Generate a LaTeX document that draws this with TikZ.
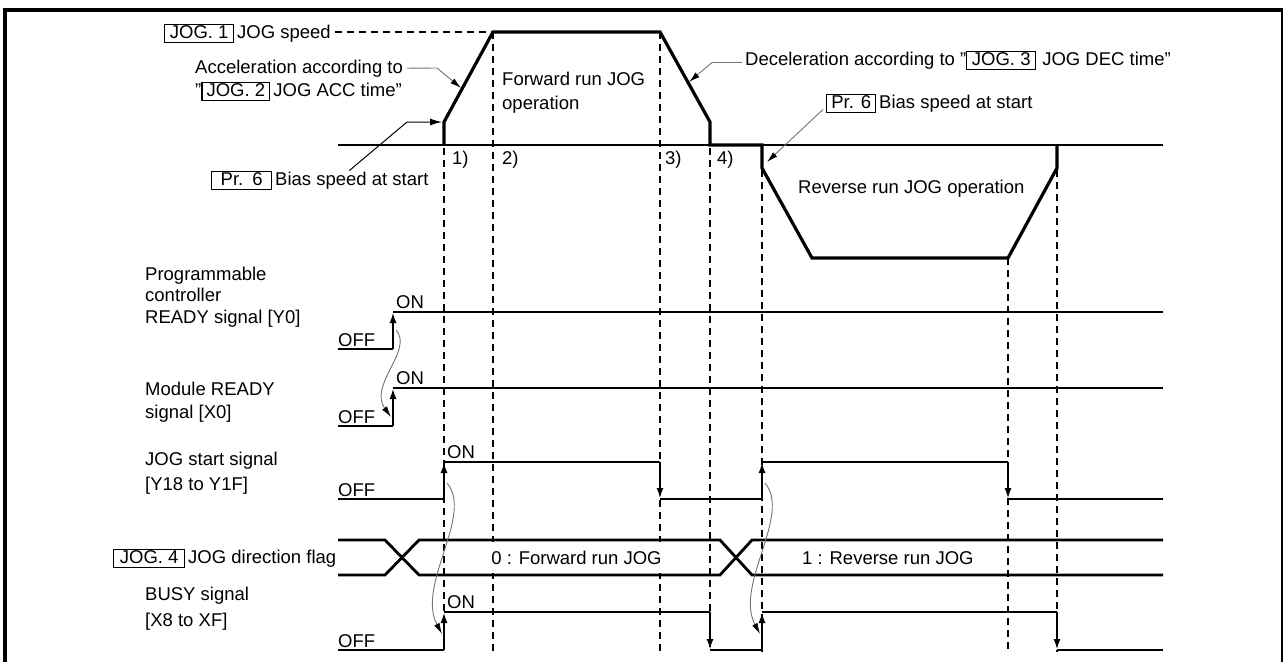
\documentclass[tikz,border=0pt]{standalone}
\usepackage{fontspec}
\setmainfont{Liberation Sans}
\usetikzlibrary{arrows.meta}
\newcommand\tgbox[2]{{\setlength\fboxsep{0pt}\setlength\fboxrule{1.2pt}\fbox{\makebox[#1]{\rule[-4pt]{0pt}{17pt}#2}}}}
\newcommand\dq{\symbol{34}}
\begin{document}
\begin{tikzpicture}[x=1pt,y=-1pt,
  font=\fontsize{18.5}{22}\selectfont,
  lbl/.style={inner sep=0pt, anchor=base west},
  lblm/.style={inner sep=0pt, anchor=base west, align=left},
  bord/.style={line width=4pt},
  prof/.style={line width=3.2pt, line join=miter},
  sigA/.style={line width=2.8pt},
  sigB/.style={line width=2.2pt},
  guide/.style={line width=1.2pt, dash pattern=on 7pt off 5pt},
  axisline/.style={line width=1.3pt},
  lead/.style={draw=black!55, line width=0.9pt},
  arr/.style={-{Latex[length=11pt,width=7pt]}},
  leadarr/.style={-{Latex[length=11pt,width=6pt,color=black]}},
]
\useasboundingbox (0,0) rectangle (1285,662);

% frame
\draw[bord] (3,9.5) -- (1283,9.5);
\draw[bord] (5,7.5) -- (5,662);
\draw[line width=1.5pt] (1282,9.5) -- (1282,662);

% profile coordinates
\coordinate (p0) at (444,145);
\coordinate (p1) at (444,122);
\coordinate (p2) at (493,32);
\coordinate (p3) at (660,32);
\coordinate (p4) at (710,122);
\coordinate (p5) at (710,145);
\coordinate (p6) at (762,145);
\coordinate (p7) at (762,168);
\coordinate (p8) at (812,258);
\coordinate (p9) at (1008,258);
\coordinate (p10) at (1057,168);
\coordinate (p11) at (1057,145);

% guides
\foreach \x/\y in {444/148, 493/32, 660/32, 710/148, 762/170, 1008/258, 1057/170}
  \draw[guide] (\x,\y) -- (\x,652);

% top labels
\node[lbl] (jog1) at (164,38) {\tgbox{67.6pt}{JOG. 1}\hspace{3pt}JOG speed};
\draw[guide] ([xshift=4]jog1.east |- p2) -- (p2);
\node[lbl] (acc1) at (195,73) {Acceleration according to};
\node[lbl] (acc2) at (195,96) {\dq\tgbox{66.6pt}{JOG. 2}\hspace{3pt}JOG ACC time\dq};
\node[lbl] (bias1) at (211,185) {\tgbox{58.6pt}{Pr.\hspace{9pt}6}\hspace{3pt}Bias speed at start};
\node[lbl] (dec) at (745,65) {Deceleration according to \dq\tgbox{67.6pt}{JOG. 3}\hspace{6pt}JOG DEC time\dq};
\node[lbl] (bias2) at (826,108) {\tgbox{47.6pt}{Pr. 6}\hspace{3pt}Bias speed at start};
\node[lblm] (fwd) at (502,109) {Forward run JOG\\[2pt]operation};
\node[lbl] (rev) at (798,193) {Reverse run JOG operation};
\node[lbl] (t1) at (452,164) {1)};
\node[lbl] (t2) at (502,164) {2)};
\node[lbl] (t3) at (665,164) {3)};
\node[lbl] (t4) at (717,164) {4)};

% axis and speed profile
\draw[axisline] (338,145) -- (1163,145);
\draw[prof] (p0) -- (p1) -- (p2) -- (p3) -- (p4) -- (p5) -- (p6) -- (p7) -- (p8) -- (p9) -- (p10) -- (p11);

% leaders
\coordinate (accK) at (437,68);
\coordinate (accTip) at (461,88);
\draw[lead,leadarr] ([xshift=4]acc1.east) -- (accK) -- (accTip);
\coordinate (b1K) at (407,122);
\draw[line width=1pt,-{Latex[length=12pt,width=7pt]}] ([xshift=29.5]bias1.north) -- (b1K) -- ([xshift=-2]p1);
\coordinate (decTip) at (689,82);
\draw[lead,leadarr] ([xshift=-3,yshift=-2]dec.west) -- ([xshift=-33,yshift=-2]dec.west) -- (decTip);
\coordinate (b2Tip) at (767,162);
\draw[lead,leadarr] ([xshift=-3,yshift=-6]bias2.west) -- (b2Tip);

% left labels
\node[lblm] (lY0) at (145,323) {Programmable\\[-1pt]controller\\[0pt]READY signal [Y0]};
\node[lblm] (lX0) at (145,418) {Module READY\\[1pt]signal [X0]};
\node[lblm] (lJS) at (145,490) {JOG start signal\\[3pt][Y18 to Y1F]};
\node[lbl] (lDir) at (113,563) {\tgbox{69.6pt}{JOG. 4}\hspace{3pt}JOG direction flag};
\node[lblm] (lBY) at (145,626) {BUSY signal\\[4pt][X8 to XF]};

% Y0
\node[lbl] (offY0) at (338,346) {OFF};
\node[lbl] (onY0) at (396,308) {ON};
\draw[sigA] (338,349) -- (393,349);
\draw[sigA,arr] (393,349) -- (393,312);
\draw[sigA] (393,312) -- (1163,312);

% X0
\node[lbl] (offX0) at (338,423) {OFF};
\node[lbl] (onX0) at (396,384) {ON};
\draw[sigA] (338,426) -- (393,426);
\draw[sigA,arr] (393,426) -- (393,388);
\draw[sigA] (393,388) -- (1163,388);

% JOG start
\node[lbl] (offJS) at (338,496) {OFF};
\node[lbl] (onJS) at (447,458) {ON};
\draw[sigB] (338,499) -- (444,499);
\draw[sigB,arr] (444,499) -- (444,462);
\draw[sigB] (444,462) -- (660,462);
\draw[sigB,arr] (660,462) -- (660,499);
\draw[sigB] (660,499) -- (762,499);
\draw[sigB,arr] (762,499) -- (762,462);
\draw[sigB] (762,462) -- (1008,462);
\draw[sigB,arr] (1008,462) -- (1008,499);
\draw[sigB] (1008,499) -- (1163,499);

% direction flag
\node[fill=white, inner sep=0pt, minimum width=164pt, minimum height=31pt] (fwdflag) at (576.5,557.5) {0 : Forward run JOG};
\draw[sigA,line join=miter] (338,540) -- (385,540) -- (419,575) -- (720,575) -- (752,540) -- (1163,540);
\draw[sigA,line join=miter] (338,575) -- (385,575) -- (419,540) -- (720,540) -- (752,575) -- (1163,575);
\node[lbl] (revflag) at (802,564) {1 : Reverse run JOG};

% BUSY
\node[lbl] (offBY) at (338,647) {OFF};
\node[lbl] (onBY) at (447,608) {ON};
\draw[sigB] (338,650) -- (444,650);
\draw[sigB,arr] (444,650) -- (444,612);
\draw[sigB] (444,612) -- (710,612);
\draw[sigB,arr] (710,612) -- (710,650);
\draw[sigB] (710,650) -- (762,650);
\draw[sigB,arr] (762,650) -- (762,612);
\draw[sigB] (762,612) -- (1057,612);
\draw[sigB,arr] (1057,612) -- (1057,650);
\draw[sigB] (1057,650) -- (1163,650);

% curved cause arrows
\coordinate (cY0) at (396,330);
\coordinate (cX0) at (391,417);
\coordinate (cJ1) at (447,483);
\coordinate (cB1) at (442,634);
\coordinate (cJ2) at (765,483);
\coordinate (cB2) at (760,634);
\draw[lead,leadarr] (cY0) .. controls (414,350) and (368,385) .. (cX0);
\draw[lead,leadarr] (cJ1) .. controls (474,515) and (416,585) .. (cB1);
\draw[lead,leadarr] (cJ2) .. controls (792,515) and (734,585) .. (cB2);
\end{tikzpicture}
\end{document}
